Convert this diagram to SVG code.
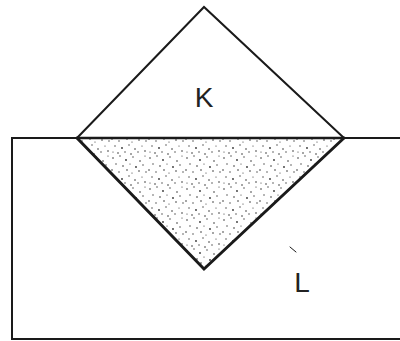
<svg xmlns="http://www.w3.org/2000/svg" width="400" height="341" viewBox="0 0 400 341">
<style>
.ln{fill:none;stroke:#1a1a1a;stroke-linejoin:miter;stroke-linecap:round}
.lbl{font-family:"Liberation Sans",Arial,sans-serif;font-size:28px;fill:#222;text-anchor:middle}
</style>
<defs>
<pattern id="stip" width="37" height="31" patternUnits="userSpaceOnUse">
<g fill="#333">
<circle cx="2" cy="3" r="0.8"/><circle cx="9" cy="1" r="0.7"/><circle cx="15" cy="5" r="0.9"/><circle cx="22" cy="2" r="0.7"/><circle cx="29" cy="6" r="0.8"/><circle cx="34" cy="1" r="0.6"/>
<circle cx="5" cy="9" r="0.7"/><circle cx="12" cy="11" r="0.8"/><circle cx="19" cy="9" r="0.6"/><circle cx="25" cy="12" r="0.9"/><circle cx="32" cy="10" r="0.7"/>
<circle cx="1" cy="15" r="0.8"/><circle cx="8" cy="17" r="0.7"/><circle cx="16" cy="15" r="0.8"/><circle cx="21" cy="18" r="0.6"/><circle cx="28" cy="16" r="0.8"/><circle cx="35" cy="17" r="0.7"/>
<circle cx="4" cy="22" r="0.7"/><circle cx="11" cy="24" r="0.9"/><circle cx="18" cy="21" r="0.7"/><circle cx="24" cy="25" r="0.8"/><circle cx="31" cy="22" r="0.6"/>
<circle cx="2" cy="28" r="0.6"/><circle cx="7" cy="29" r="0.8"/><circle cx="14" cy="28" r="0.7"/><circle cx="20" cy="30" r="0.8"/><circle cx="27" cy="28" r="0.7"/><circle cx="34" cy="27" r="0.8"/>
</g>
</pattern>
</defs>
<g id="L">
<rect x="12" y="138" width="395" height="201" class="ln" stroke-width="2"/>
<text x="302" y="292" class="lbl">L</text>
<line x1="290" y1="247" x2="296" y2="252" class="ln" stroke-width="1"/>
</g>
<g id="K">
<polygon points="77,138 344,138 204,269" fill="url(#stip)"/>
<polyline points="77,138 204,7 344,138" class="ln" stroke-width="2"/>
<line x1="77" y1="138" x2="344" y2="138" class="ln" stroke-width="2.5"/>
<polyline points="77,138 204,269 344,138" class="ln" stroke-width="3"/>
<text x="204" y="107" class="lbl">K</text>
</g>
<g id="connectors"></g>
</svg>
